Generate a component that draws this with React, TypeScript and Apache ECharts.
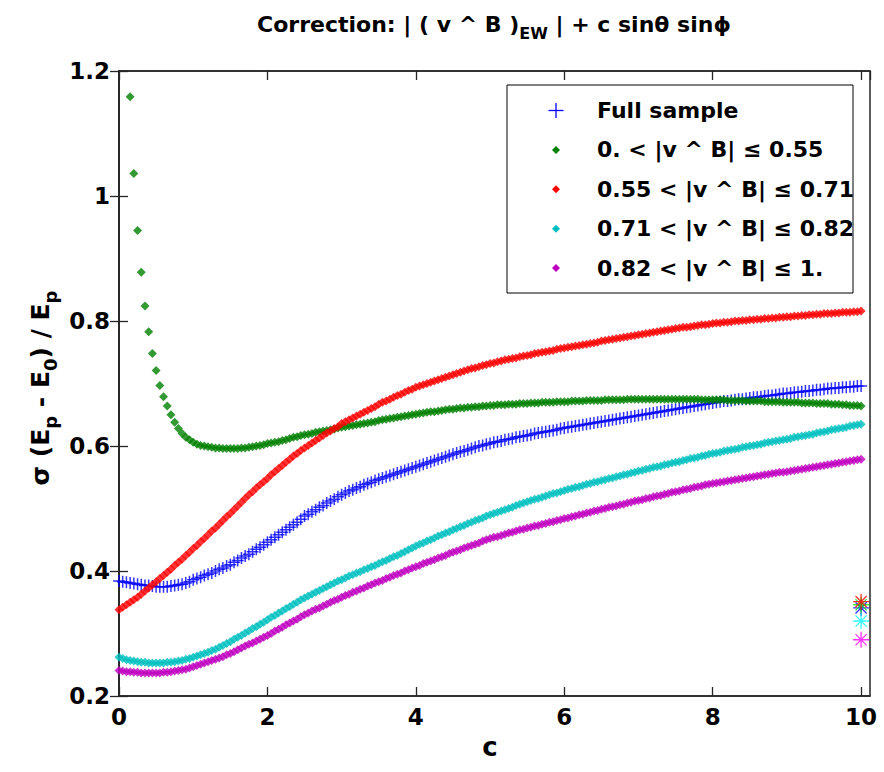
import React, { useEffect, useRef } from 'react';
import * as echarts from 'echarts';

// x grid step of c (values are listed every 0.05 from 0 to 10)
const cStep = 0.05;

// Full sample (blue +)
const fullSample = [
  0.384,0.383,0.382,0.381,0.380,0.379,0.378,0.377,0.377,0.376,0.375,0.375,0.375,0.375,0.376,0.377,0.378,0.379,0.381,0.383,
  0.386,0.388,0.390,0.393,0.395,0.397,0.400,0.403,0.405,0.408,0.410,0.414,0.417,0.421,0.424,0.427,0.431,0.435,0.438,0.442,
  0.446,0.450,0.454,0.458,0.462,0.466,0.470,0.474,0.478,0.483,0.488,0.491,0.495,0.498,0.502,0.505,0.509,0.512,0.515,0.519,
  0.522,0.525,0.528,0.530,0.533,0.535,0.538,0.540,0.542,0.545,0.547,0.549,0.551,0.553,0.555,0.557,0.559,0.561,0.563,0.565,
  0.567,0.569,0.571,0.573,0.575,0.577,0.579,0.581,0.583,0.585,0.587,0.589,0.591,0.592,0.594,0.596,0.598,0.600,0.601,0.603,
  0.604,0.606,0.607,0.608,0.610,0.611,0.612,0.614,0.615,0.616,0.617,0.618,0.620,0.621,0.622,0.623,0.624,0.625,0.626,0.628,
  0.629,0.630,0.631,0.632,0.633,0.634,0.635,0.636,0.637,0.638,0.639,0.640,0.641,0.642,0.643,0.644,0.645,0.646,0.647,0.648,
  0.649,0.650,0.651,0.652,0.653,0.654,0.655,0.656,0.657,0.658,0.659,0.660,0.661,0.662,0.663,0.664,0.665,0.666,0.667,0.668,
  0.669,0.670,0.671,0.672,0.672,0.673,0.674,0.675,0.675,0.676,0.677,0.678,0.678,0.679,0.680,0.681,0.681,0.682,0.683,0.684,
  0.684,0.685,0.686,0.686,0.687,0.688,0.688,0.689,0.690,0.690,0.691,0.692,0.692,0.693,0.693,0.694,0.694,0.695,0.695,0.696,
  0.696,
];

// 0. < |v^B| <= 0.55 (green)
const bin1 = [
  null,null,null,1.159,1.036,0.945,0.878,0.824,0.783,0.748,0.721,0.697,0.679,0.664,0.650,0.638,0.628,0.620,0.614,0.610,
  0.606,0.603,0.601,0.600,0.599,0.598,0.597,0.597,0.596,0.596,0.596,0.596,0.596,0.597,0.597,0.598,0.599,0.600,0.601,0.602,
  0.604,0.605,0.606,0.607,0.609,0.610,0.612,0.614,0.615,0.617,0.618,0.619,0.620,0.622,0.623,0.624,0.625,0.626,0.627,0.629,
  0.630,0.631,0.632,0.633,0.634,0.635,0.636,0.637,0.638,0.639,0.641,0.642,0.643,0.644,0.645,0.646,0.647,0.648,0.649,0.650,
  0.651,0.652,0.653,0.654,0.655,0.655,0.656,0.657,0.658,0.659,0.659,0.660,0.661,0.661,0.662,0.662,0.663,0.663,0.664,0.664,
  0.665,0.665,0.666,0.666,0.666,0.667,0.667,0.667,0.668,0.668,0.668,0.669,0.669,0.669,0.670,0.670,0.670,0.670,0.671,0.671,
  0.671,0.671,0.672,0.672,0.672,0.672,0.673,0.673,0.673,0.673,0.673,0.674,0.674,0.674,0.674,0.674,0.674,0.675,0.675,0.675,
  0.675,0.675,0.675,0.675,0.675,0.675,0.675,0.675,0.675,0.675,0.675,0.675,0.675,0.675,0.675,0.675,0.675,0.674,0.674,0.674,
  0.674,0.674,0.674,0.674,0.673,0.673,0.673,0.673,0.673,0.672,0.672,0.672,0.672,0.672,0.671,0.671,0.671,0.671,0.671,0.670,
  0.670,0.670,0.670,0.670,0.669,0.669,0.669,0.669,0.668,0.668,0.668,0.668,0.667,0.667,0.667,0.666,0.666,0.665,0.665,0.665,
  0.664,
];

// 0.55 < |v^B| <= 0.71 (red)
const bin2 = [
  0.338,0.342,0.346,0.350,0.354,0.358,0.363,0.368,0.373,0.378,0.383,0.388,0.393,0.398,0.403,0.409,0.414,0.419,0.425,0.430,
  0.436,0.441,0.447,0.452,0.458,0.464,0.469,0.475,0.481,0.487,0.492,0.498,0.504,0.510,0.516,0.522,0.527,0.533,0.538,0.543,
  0.548,0.554,0.559,0.564,0.569,0.574,0.579,0.584,0.588,0.593,0.597,0.601,0.605,0.609,0.613,0.617,0.621,0.624,0.628,0.631,
  0.636,0.639,0.642,0.645,0.648,0.651,0.654,0.657,0.660,0.663,0.667,0.670,0.672,0.675,0.678,0.681,0.683,0.686,0.689,0.691,
  0.694,0.696,0.698,0.700,0.702,0.704,0.706,0.708,0.710,0.712,0.714,0.716,0.718,0.720,0.722,0.724,0.725,0.727,0.729,0.730,
  0.732,0.733,0.735,0.736,0.738,0.739,0.740,0.741,0.743,0.744,0.745,0.746,0.748,0.749,0.750,0.751,0.752,0.753,0.755,0.756,
  0.757,0.758,0.759,0.760,0.761,0.762,0.763,0.764,0.765,0.766,0.768,0.769,0.770,0.771,0.772,0.773,0.774,0.775,0.776,0.777,
  0.778,0.779,0.780,0.781,0.782,0.783,0.784,0.785,0.786,0.787,0.788,0.789,0.790,0.790,0.791,0.792,0.793,0.794,0.794,0.795,
  0.796,0.797,0.797,0.798,0.798,0.799,0.800,0.800,0.801,0.801,0.802,0.802,0.803,0.803,0.804,0.804,0.805,0.805,0.806,0.806,
  0.807,0.807,0.808,0.808,0.809,0.809,0.810,0.810,0.811,0.811,0.812,0.812,0.812,0.813,0.813,0.814,0.814,0.814,0.815,0.815,
  0.816,
];

// 0.71 < |v^B| <= 0.82 (cyan)
const bin3 = [
  0.262,0.260,0.258,0.257,0.256,0.255,0.254,0.254,0.253,0.253,0.253,0.253,0.253,0.254,0.254,0.255,0.256,0.257,0.259,0.260,
  0.262,0.264,0.266,0.268,0.270,0.273,0.275,0.278,0.281,0.284,0.287,0.291,0.294,0.297,0.301,0.304,0.308,0.311,0.315,0.318,
  0.322,0.326,0.329,0.333,0.336,0.340,0.343,0.347,0.350,0.354,0.357,0.360,0.363,0.366,0.369,0.372,0.375,0.378,0.381,0.384,
  0.386,0.389,0.392,0.394,0.397,0.399,0.402,0.404,0.407,0.409,0.412,0.415,0.417,0.420,0.423,0.425,0.428,0.431,0.434,0.437,
  0.440,0.443,0.445,0.448,0.450,0.453,0.456,0.458,0.461,0.463,0.466,0.468,0.471,0.473,0.476,0.478,0.481,0.483,0.485,0.488,
  0.490,0.492,0.494,0.496,0.498,0.500,0.502,0.505,0.507,0.509,0.511,0.513,0.515,0.516,0.518,0.520,0.522,0.524,0.525,0.527,
  0.529,0.531,0.532,0.534,0.535,0.537,0.539,0.540,0.542,0.543,0.545,0.546,0.548,0.549,0.551,0.552,0.554,0.555,0.557,0.558,
  0.560,0.561,0.563,0.564,0.566,0.567,0.568,0.570,0.571,0.573,0.574,0.575,0.577,0.578,0.580,0.581,0.582,0.584,0.585,0.587,
  0.588,0.589,0.590,0.592,0.593,0.594,0.595,0.596,0.598,0.599,0.600,0.601,0.602,0.603,0.605,0.606,0.607,0.608,0.609,0.610,
  0.611,0.612,0.614,0.615,0.616,0.617,0.618,0.619,0.621,0.622,0.623,0.624,0.626,0.627,0.628,0.629,0.630,0.632,0.633,0.634,
  0.635,
];

// 0.82 < |v^B| <= 1. (magenta)
const bin4 = [
  0.241,0.240,0.239,0.239,0.238,0.238,0.237,0.237,0.237,0.237,0.237,0.237,0.238,0.238,0.239,0.240,0.241,0.242,0.243,0.245,
  0.247,0.249,0.251,0.253,0.255,0.257,0.259,0.261,0.263,0.266,0.268,0.271,0.274,0.277,0.280,0.283,0.285,0.288,0.291,0.294,
  0.297,0.300,0.304,0.307,0.310,0.314,0.317,0.320,0.323,0.327,0.330,0.333,0.336,0.339,0.341,0.344,0.347,0.350,0.353,0.355,
  0.358,0.361,0.363,0.366,0.368,0.371,0.373,0.376,0.378,0.381,0.383,0.385,0.388,0.390,0.393,0.395,0.397,0.400,0.402,0.405,
  0.407,0.409,0.412,0.414,0.416,0.418,0.421,0.423,0.425,0.428,0.430,0.432,0.434,0.437,0.439,0.441,0.443,0.445,0.448,0.450,
  0.452,0.454,0.455,0.457,0.459,0.461,0.462,0.464,0.466,0.467,0.469,0.470,0.472,0.473,0.475,0.476,0.478,0.479,0.481,0.482,
  0.484,0.485,0.487,0.488,0.490,0.491,0.493,0.494,0.496,0.497,0.499,0.500,0.502,0.503,0.504,0.506,0.507,0.509,0.510,0.512,
  0.513,0.514,0.516,0.517,0.519,0.520,0.521,0.523,0.524,0.526,0.527,0.528,0.530,0.531,0.532,0.534,0.535,0.536,0.538,0.539,
  0.540,0.541,0.542,0.543,0.544,0.545,0.546,0.547,0.548,0.549,0.550,0.551,0.552,0.553,0.554,0.555,0.556,0.557,0.558,0.558,
  0.559,0.560,0.561,0.562,0.563,0.564,0.565,0.566,0.567,0.568,0.569,0.570,0.571,0.572,0.573,0.574,0.575,0.576,0.577,0.578,
  0.579,
];

// asterisk markers at c = 10 (order: full, bin1, bin2, bin3, bin4)
const starC = 10;
const starValues = [0.341, 0.346, 0.351, 0.320, 0.290];
const starColors = ['#0000ff', '#00ee00', '#ff0000', '#00ffff', '#ff00ff'];

const seriesNames = [
  'Full sample',
  '0. < |v ^ B| \u2264 0.55',
  '0.55 < |v ^ B| \u2264 0.71',
  '0.71 < |v ^ B| \u2264 0.82',
  '0.82 < |v ^ B| \u2264 1.',
];
const seriesColors = ['#0000ff', '#008000', '#ff0000', '#00bfbf', '#bf00bf'];

const xTicks = [0, 2, 4, 6, 8, 10];
const yTicks = [0.2, 0.4, 0.6, 0.8, 1, 1.2];

const FONT = 'DejaVu Sans';
const PLUS = 'path://M5,0L5,10M0,5L10,5';
const STAR = 'path://M5,0L5,10M0,5L10,5M1.5,1.5L8.5,8.5M1.5,8.5L8.5,1.5';

function toPairs(vals: (number | null)[]) {
  const out: [number, number][] = [];
  vals.forEach((v, i) => {
    if (v !== null) out.push([+(i * cStep).toFixed(2), v]);
  });
  return out;
}

export default function App() {
  const ref = useRef<HTMLDivElement>(null);
  useEffect(() => {
    if (!ref.current) return;
    const chart = echarts.init(ref.current, null, { renderer: 'svg' });
    const allData = [fullSample, bin1, bin2, bin3, bin4];

    const series: any[] = allData.map((vals, k) => {
      const isPlus = k === 0;
      return {
        type: 'scatter',
        name: seriesNames[k],
        data: toPairs(vals),
        symbol: isPlus ? PLUS : 'diamond',
        symbolSize: isPlus ? 12 : 9,
        itemStyle: isPlus
          ? { color: 'rgba(0,0,0,0)', borderColor: seriesColors[k], borderWidth: 1.5 }
          : { color: seriesColors[k] },
        silent: true,
        z: 2 + k,
      };
    });
    starValues.forEach((v, k) => {
      series.push({
        type: 'scatter',
        name: 'star' + k,
        data: [[starC, v]],
        symbol: STAR,
        symbolSize: 16,
        itemStyle: { color: 'rgba(0,0,0,0)', borderColor: starColors[k], borderWidth: 1.3 },
        silent: true,
        z: 10 + k,
      });
    });

    const legendX = 507, legendY = 85, legendW = 346, legendH = 208;
    const rowY0 = 110.5, rowGap = 39.4;
    const legendEls: any[] = [
      {
        type: 'rect',
        shape: { x: legendX, y: legendY, width: legendW, height: legendH },
        style: { fill: '#fff', stroke: '#000', lineWidth: 1 },
        z: 100,
      },
    ];
    seriesNames.forEach((name, k) => {
      const cy = rowY0 + k * rowGap;
      const mx = 556;
      if (k === 0) {
        legendEls.push({
          type: 'line', shape: { x1: mx - 7.5, y1: cy, x2: mx + 7.5, y2: cy },
          style: { stroke: seriesColors[k], lineWidth: 1.3 }, z: 101,
        });
        legendEls.push({
          type: 'line', shape: { x1: mx, y1: cy - 7.5, x2: mx, y2: cy + 7.5 },
          style: { stroke: seriesColors[k], lineWidth: 1.3 }, z: 101,
        });
      } else {
        legendEls.push({
          type: 'polygon',
          shape: { points: [[mx, cy - 4], [mx + 4, cy], [mx, cy + 4], [mx - 4, cy]] },
          style: { fill: seriesColors[k] }, z: 101,
        });
      }
      legendEls.push({
        type: 'text', x: 597, y: cy,
        style: {
          text: name, fontFamily: FONT, fontWeight: 'bold', fontSize: 22,
          fill: '#000', align: 'left', verticalAlign: 'middle',
        },
        z: 101,
      });
    });

    const option: any = {
      animation: false,
      backgroundColor: '#fff',
      grid: {
        left: 119, right: 14, top: 71, bottom: 76,
        show: true, borderColor: '#262626', borderWidth: 1.5, backgroundColor: '#fff',
      },
      xAxis: [
        {
          type: 'value', min: 0, max: 10.12, interval: 2, position: 'bottom',
          axisLine: { show: true, lineStyle: { color: '#262626', width: 1.5 } },
          axisTick: { show: true, inside: true, length: 9, lineStyle: { color: '#262626', width: 1.3 } },
          axisLabel: {
            show: true, margin: 9, showMaxLabel: false,
            fontFamily: FONT, fontWeight: 'bold', fontSize: 23, color: '#000',
            formatter: (v: number) => (xTicks.indexOf(Math.round(v * 100) / 100) >= 0 ? String(Math.round(v)) : ''),
          },
          splitLine: { show: false },
        },
        {
          type: 'value', min: 0, max: 10.12, interval: 2, position: 'top',
          axisLine: { show: true, lineStyle: { color: '#262626', width: 1.5 } },
          axisTick: { show: true, inside: true, length: 9, lineStyle: { color: '#262626', width: 1.3 } },
          axisLabel: { show: false },
          splitLine: { show: false },
        },
      ],
      yAxis: [
        {
          type: 'value', min: 0.2, max: 1.2, interval: 0.2, position: 'left',
          axisLine: { show: true, lineStyle: { color: '#262626', width: 1.5 } },
          axisTick: { show: true, inside: true, length: 9, lineStyle: { color: '#262626', width: 1.3 } },
          axisLabel: {
            show: true, margin: 9,
            fontFamily: FONT, fontWeight: 'bold', fontSize: 23, color: '#000',
            formatter: (v: number) => {
              const r = Math.round(v * 10) / 10;
              return yTicks.indexOf(r) >= 0 ? String(r) : '';
            },
          },
          splitLine: { show: false },
        },
        {
          type: 'value', min: 0.2, max: 1.2, interval: 0.2, position: 'right',
          axisLine: { show: true, lineStyle: { color: '#262626', width: 1.5 } },
          axisTick: { show: true, inside: true, length: 9, lineStyle: { color: '#262626', width: 1.3 } },
          axisLabel: { show: false },
          splitLine: { show: false },
        },
      ],
      series,
      graphic: [
        {
          type: 'text', x: 494, y: 24, z: 100,
          style: {
            text: '{n|Correction: | ( v ^ B )}{s|EW}{n| | + c sin\u03b8 sin\u03d5}',
            align: 'center', verticalAlign: 'middle',
            rich: {
              n: { fontFamily: FONT, fontSize: 22, fontWeight: 'bold', fill: '#000', lineHeight: 34, verticalAlign: 'middle' },
              s: { fontFamily: FONT, fontSize: 16, fontWeight: 'bold', fill: '#000', verticalAlign: 'bottom' },
            },
          },
        },
        {
          type: 'text', x: 40, y: 388, rotation: Math.PI / 2, z: 100,
          style: {
            text: '{n|\u03c3 (E}{s|p}{n| - E}{s|0}{n|) / E}{s|p}',
            align: 'center', verticalAlign: 'middle',
            rich: {
              n: { fontFamily: FONT, fontSize: 25, fontWeight: 'bold', fill: '#000', lineHeight: 38, verticalAlign: 'middle' },
              s: { fontFamily: FONT, fontSize: 18, fontWeight: 'bold', fill: '#000', verticalAlign: 'bottom' },
            },
          },
        },
        {
          type: 'text', x: 490, y: 747, z: 100,
          style: {
            text: 'c', fontFamily: FONT, fontWeight: 'bold', fontSize: 26, fill: '#000',
            align: 'center', verticalAlign: 'middle',
          },
        },
        ...legendEls,
      ],
    };
    chart.setOption(option);
    return () => chart.dispose();
  }, []);

  return (
    <div
      ref={ref}
      style={{ position: 'fixed', left: 0, top: 0, width: 884, height: 772, background: '#fff' }}
    />
  );
}
